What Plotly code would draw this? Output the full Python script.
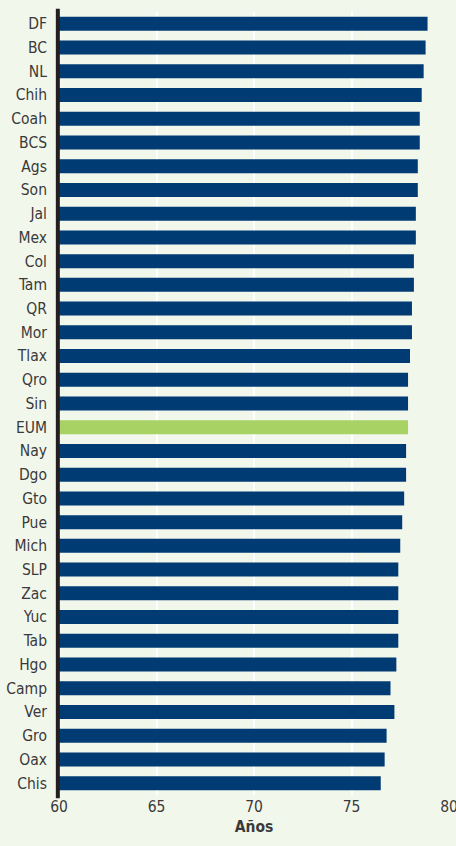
import plotly.graph_objects as go

states = ["DF", "BC", "NL", "Chih", "Coah", "BCS", "Ags", "Son", "Jal", "Mex", "Col",
          "Tam", "QR", "Mor", "Tlax", "Qro", "Sin", "EUM", "Nay", "Dgo", "Gto", "Pue",
          "Mich", "SLP", "Zac", "Yuc", "Tab", "Hgo", "Camp", "Ver", "Gro", "Oax", "Chis"]
life_expectancy = [78.9, 78.8, 78.7, 78.6, 78.5, 78.5, 78.4, 78.4, 78.3, 78.3, 78.2,
                   78.2, 78.1, 78.1, 78.0, 77.9, 77.9, 77.9, 77.8, 77.8, 77.7, 77.6,
                   77.5, 77.4, 77.4, 77.4, 77.4, 77.3, 77.0, 77.2, 76.8, 76.7, 76.5]
x_ticks = [60, 65, 70, 75, 80]
x_title = "Años"
highlight = "EUM"

NAVY = "#003b73"
GREEN = "#a8d264"
BG = "#f2f7ec"
TEXT = "#3a3a3a"
FONT = "DejaVu Sans Condensed, Liberation Sans Narrow, sans-serif"
FS = 15.5

colors = [GREEN if s == highlight else NAVY for s in states]

fig = go.Figure(go.Bar(
    x=life_expectancy,
    y=states,
    base=0,
    orientation="h",
    marker=dict(color=colors, line=dict(width=0)),
    hoverinfo="x+y",
))

fig.update_layout(
    width=456, height=846,
    margin=dict(l=59, r=7, t=12, b=51),
    paper_bgcolor=BG, plot_bgcolor=BG,
    bargap=0.41,
    showlegend=False,
    font=dict(family=FONT, size=FS, color=TEXT),
    xaxis=dict(
        range=[60, 80],
        tickvals=x_ticks,
        ticktext=[str(t) for t in x_ticks],
        showgrid=True, gridcolor="#ffffff", gridwidth=2,
        zeroline=False, showline=False, ticks="",
        automargin=False,
        ticklabeloverflow="allow",
        tickfont=dict(family=FONT, size=FS, color=TEXT),
        title=dict(text="<b>" + x_title + "</b>", standoff=6,
                   font=dict(family=FONT, size=FS, color=TEXT)),
    ),
    yaxis=dict(
        categoryorder="array", categoryarray=states,
        autorange="reversed",
        showgrid=False, zeroline=False, showline=False, ticks="",
        automargin=False,
        ticklabelstandoff=11,
        tickfont=dict(family=FONT, size=FS, color=TEXT),
    ),
    shapes=[dict(
        type="line", xref="x domain", yref="y domain",
        x0=-0.003, x1=-0.003, y0=-0.004, y1=1.004,
        line=dict(color="#231f20", width=4), layer="above",
    )],
)

fig.write_html("out.html", config={"displayModeBar": False},
               post_script="document.body.style.margin='0';")
